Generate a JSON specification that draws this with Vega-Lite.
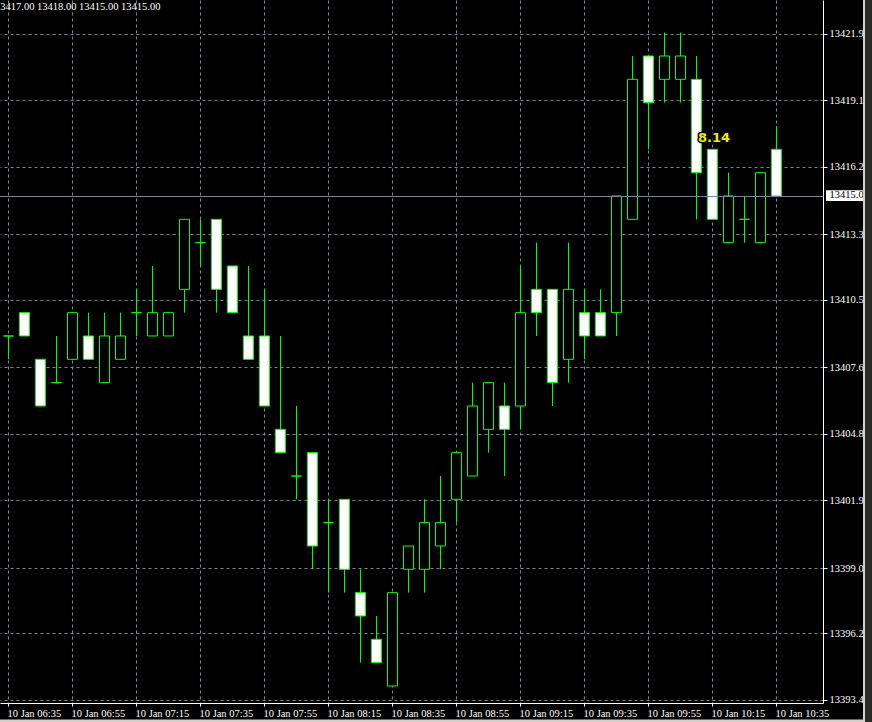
{
  "$schema": "https://vega.github.io/schema/vega-lite/v6.json",
  "width": 823,
  "height": 703,
  "autosize": {"type": "none"},
  "padding": {"left": 0, "top": 0, "right": 49, "bottom": 19},
  "background": "#000000",
  "config": {
    "view": {"stroke": null},
    "axis": {"labelFont": "Liberation Sans Narrow", "labelFontSize": 10.5, "labelColor": "#ffffff", "domainColor": "#ffffff", "tickColor": "#ffffff", "gridColor": "#778899", "gridDash": [3, 3], "gridWidth": 1, "domainWidth": 1, "tickWidth": 1, "zindex": 0, "labelOverlap": false, "labelFlush": false, "labelBound": false}
  },
  "data": {
    "values": [
      {"t": "2020-01-10T06:35:00Z", "open": 13409, "high": 13409, "low": 13408, "close": 13409},
      {"t": "2020-01-10T06:40:00Z", "open": 13410, "high": 13410, "low": 13409, "close": 13409},
      {"t": "2020-01-10T06:45:00Z", "open": 13408, "high": 13408, "low": 13406, "close": 13406},
      {"t": "2020-01-10T06:50:00Z", "open": 13407, "high": 13409, "low": 13407, "close": 13407},
      {"t": "2020-01-10T06:55:00Z", "open": 13408, "high": 13410, "low": 13408, "close": 13410},
      {"t": "2020-01-10T07:00:00Z", "open": 13409, "high": 13410, "low": 13408, "close": 13408},
      {"t": "2020-01-10T07:05:00Z", "open": 13407, "high": 13410, "low": 13407, "close": 13409},
      {"t": "2020-01-10T07:10:00Z", "open": 13408, "high": 13410, "low": 13408, "close": 13409},
      {"t": "2020-01-10T07:15:00Z", "open": 13410, "high": 13411, "low": 13409, "close": 13410},
      {"t": "2020-01-10T07:20:00Z", "open": 13409, "high": 13412, "low": 13409, "close": 13410},
      {"t": "2020-01-10T07:25:00Z", "open": 13409, "high": 13410, "low": 13409, "close": 13410},
      {"t": "2020-01-10T07:30:00Z", "open": 13411, "high": 13414, "low": 13410, "close": 13414},
      {"t": "2020-01-10T07:35:00Z", "open": 13413, "high": 13414, "low": 13412, "close": 13413},
      {"t": "2020-01-10T07:40:00Z", "open": 13414, "high": 13414, "low": 13410, "close": 13411},
      {"t": "2020-01-10T07:45:00Z", "open": 13412, "high": 13412, "low": 13410, "close": 13410},
      {"t": "2020-01-10T07:50:00Z", "open": 13409, "high": 13412, "low": 13408, "close": 13408},
      {"t": "2020-01-10T07:55:00Z", "open": 13409, "high": 13411, "low": 13406, "close": 13406},
      {"t": "2020-01-10T08:00:00Z", "open": 13405, "high": 13409, "low": 13404, "close": 13404},
      {"t": "2020-01-10T08:05:00Z", "open": 13403, "high": 13406, "low": 13402, "close": 13403},
      {"t": "2020-01-10T08:10:00Z", "open": 13404, "high": 13404, "low": 13399, "close": 13400},
      {"t": "2020-01-10T08:15:00Z", "open": 13401, "high": 13402, "low": 13398, "close": 13401},
      {"t": "2020-01-10T08:20:00Z", "open": 13402, "high": 13402, "low": 13398, "close": 13399},
      {"t": "2020-01-10T08:25:00Z", "open": 13398, "high": 13399, "low": 13395, "close": 13397},
      {"t": "2020-01-10T08:30:00Z", "open": 13396, "high": 13397, "low": 13395, "close": 13395},
      {"t": "2020-01-10T08:35:00Z", "open": 13394, "high": 13398, "low": 13394, "close": 13398},
      {"t": "2020-01-10T08:40:00Z", "open": 13399, "high": 13400, "low": 13398, "close": 13400},
      {"t": "2020-01-10T08:45:00Z", "open": 13399, "high": 13402, "low": 13398, "close": 13401},
      {"t": "2020-01-10T08:50:00Z", "open": 13400, "high": 13403, "low": 13399, "close": 13401},
      {"t": "2020-01-10T08:55:00Z", "open": 13402, "high": 13404, "low": 13401, "close": 13404},
      {"t": "2020-01-10T09:00:00Z", "open": 13403, "high": 13407, "low": 13403, "close": 13406},
      {"t": "2020-01-10T09:05:00Z", "open": 13405, "high": 13407, "low": 13404, "close": 13407},
      {"t": "2020-01-10T09:10:00Z", "open": 13406, "high": 13407, "low": 13403, "close": 13405},
      {"t": "2020-01-10T09:15:00Z", "open": 13406, "high": 13412, "low": 13405, "close": 13410},
      {"t": "2020-01-10T09:20:00Z", "open": 13411, "high": 13413, "low": 13409, "close": 13410},
      {"t": "2020-01-10T09:25:00Z", "open": 13411, "high": 13411, "low": 13406, "close": 13407},
      {"t": "2020-01-10T09:30:00Z", "open": 13408, "high": 13413, "low": 13407, "close": 13411},
      {"t": "2020-01-10T09:35:00Z", "open": 13410, "high": 13411, "low": 13408, "close": 13409},
      {"t": "2020-01-10T09:40:00Z", "open": 13410, "high": 13411, "low": 13409, "close": 13409},
      {"t": "2020-01-10T09:45:00Z", "open": 13410, "high": 13415, "low": 13409, "close": 13415},
      {"t": "2020-01-10T09:50:00Z", "open": 13414, "high": 13421, "low": 13414, "close": 13420},
      {"t": "2020-01-10T09:55:00Z", "open": 13421, "high": 13421, "low": 13417, "close": 13419},
      {"t": "2020-01-10T10:00:00Z", "open": 13420, "high": 13422, "low": 13419, "close": 13421},
      {"t": "2020-01-10T10:05:00Z", "open": 13420, "high": 13422, "low": 13419, "close": 13421},
      {"t": "2020-01-10T10:10:00Z", "open": 13420, "high": 13421, "low": 13414, "close": 13416},
      {"t": "2020-01-10T10:15:00Z", "open": 13417, "high": 13417, "low": 13414, "close": 13414},
      {"t": "2020-01-10T10:20:00Z", "open": 13413, "high": 13416, "low": 13413, "close": 13415},
      {"t": "2020-01-10T10:25:00Z", "open": 13414, "high": 13415, "low": 13413, "close": 13414},
      {"t": "2020-01-10T10:30:00Z", "open": 13413, "high": 13416, "low": 13413, "close": 13416},
      {"t": "2020-01-10T10:35:00Z", "open": 13417, "high": 13418, "low": 13415, "close": 13415}
    ]
  },
  "layer": [
    {
      "mark": {"type": "rule", "color": "#00ff00", "strokeWidth": 1, "xOffset": 0.5},
      "encoding": {
        "x": {
          "field": "t", "type": "temporal",
          "scale": {"type": "utc", "nice": false, "padding": 0, "domain": [
            {"year": 2020, "month": 1, "date": 10, "hours": 6, "minutes": 32, "seconds": 30, "utc": true},
            {"year": 2020, "month": 1, "date": 10, "hours": 10, "minutes": 49, "seconds": 41, "milliseconds": 250, "utc": true}
          ]},
          "axis": {
            "title": null, "orient": "bottom", "grid": true, "tickSize": 3, "labelPadding": 10.5, "labelAlign": "left", "labelBaseline": "alphabetic", "labelOffset": -1,
            "tickOpacity": {"condition": {"test": "indexof([15,35,55], utcminutes(datum.value)) < 0", "value": 0}, "value": 1},
            "labelExpr": "indexof([15,35,55], utcminutes(datum.value)) >= 0 ? utcFormat(datum.value, '%d %b %H:%M') : ''",
            "values": [
              {"year": 2020, "month": 1, "date": 10, "hours": 6, "minutes": 35, "utc": true},
              {"year": 2020, "month": 1, "date": 10, "hours": 6, "minutes": 45, "utc": true},
              {"year": 2020, "month": 1, "date": 10, "hours": 6, "minutes": 55, "utc": true},
              {"year": 2020, "month": 1, "date": 10, "hours": 7, "minutes": 5, "utc": true},
              {"year": 2020, "month": 1, "date": 10, "hours": 7, "minutes": 15, "utc": true},
              {"year": 2020, "month": 1, "date": 10, "hours": 7, "minutes": 25, "utc": true},
              {"year": 2020, "month": 1, "date": 10, "hours": 7, "minutes": 35, "utc": true},
              {"year": 2020, "month": 1, "date": 10, "hours": 7, "minutes": 45, "utc": true},
              {"year": 2020, "month": 1, "date": 10, "hours": 7, "minutes": 55, "utc": true},
              {"year": 2020, "month": 1, "date": 10, "hours": 8, "minutes": 5, "utc": true},
              {"year": 2020, "month": 1, "date": 10, "hours": 8, "minutes": 15, "utc": true},
              {"year": 2020, "month": 1, "date": 10, "hours": 8, "minutes": 25, "utc": true},
              {"year": 2020, "month": 1, "date": 10, "hours": 8, "minutes": 35, "utc": true},
              {"year": 2020, "month": 1, "date": 10, "hours": 8, "minutes": 45, "utc": true},
              {"year": 2020, "month": 1, "date": 10, "hours": 8, "minutes": 55, "utc": true},
              {"year": 2020, "month": 1, "date": 10, "hours": 9, "minutes": 5, "utc": true},
              {"year": 2020, "month": 1, "date": 10, "hours": 9, "minutes": 15, "utc": true},
              {"year": 2020, "month": 1, "date": 10, "hours": 9, "minutes": 25, "utc": true},
              {"year": 2020, "month": 1, "date": 10, "hours": 9, "minutes": 35, "utc": true},
              {"year": 2020, "month": 1, "date": 10, "hours": 9, "minutes": 45, "utc": true},
              {"year": 2020, "month": 1, "date": 10, "hours": 9, "minutes": 55, "utc": true},
              {"year": 2020, "month": 1, "date": 10, "hours": 10, "minutes": 5, "utc": true},
              {"year": 2020, "month": 1, "date": 10, "hours": 10, "minutes": 15, "utc": true},
              {"year": 2020, "month": 1, "date": 10, "hours": 10, "minutes": 25, "utc": true},
              {"year": 2020, "month": 1, "date": 10, "hours": 10, "minutes": 35, "utc": true},
              {"year": 2020, "month": 1, "date": 10, "hours": 10, "minutes": 45, "utc": true}
            ]
          }
        },
        "y": {
          "field": "low", "type": "quantitative",
          "scale": {"domain": [13393.27, 13423.4], "nice": false, "zero": false, "padding": 0},
          "axis": {
            "title": null, "orient": "right", "grid": true, "tickSize": 4, "labelPadding": 2, "labelAlign": "left", "labelBaseline": "middle", "format": ".2f",
            "values": [13423.40, 13421.95, 13420.50, 13419.10, 13417.70, 13416.25, 13414.80, 13413.35, 13411.95, 13410.55, 13409.10, 13407.65, 13406.20, 13404.80, 13403.40, 13401.95, 13400.50, 13399.05, 13397.65, 13396.25, 13394.80, 13393.40]
          }
        },
        "y2": {"field": "high"}
      }
    },
    {
      "mark": {"type": "bar", "width": 10, "stroke": "#00ff00", "strokeWidth": 1, "xOffset": 0.5},
      "encoding": {
        "x": {"field": "t", "type": "temporal"},
        "y": {"field": "open", "type": "quantitative"},
        "y2": {"field": "close"},
        "fill": {"condition": {"test": "datum.close < datum.open", "value": "#ffffff"}, "value": "#000000"}
      }
    },
    {
      "data": {"values": [{}]},
      "mark": {"type": "rule", "color": "#778899", "strokeWidth": 1, "yOffset": 0.5},
      "encoding": {"y": {"datum": 13415, "type": "quantitative"}}
    },
    {
      "data": {"values": [{}]},
      "mark": {"type": "text", "text": "8.14", "font": "DejaVu Sans", "fontWeight": "bold", "fontSize": 13, "align": "center", "baseline": "middle", "dx": 2, "fill": "#000000", "stroke": "#000000", "strokeWidth": 3, "strokeJoin": "round"},
      "encoding": {
        "x": {"datum": {"year": 2020, "month": 1, "date": 10, "hours": 10, "minutes": 15, "utc": true}, "type": "temporal"},
        "y": {"datum": 13417.5, "type": "quantitative"}
      }
    },
    {
      "data": {"values": [{}]},
      "mark": {"type": "text", "text": "8.14", "font": "DejaVu Sans", "fontWeight": "bold", "fontSize": 13, "align": "center", "baseline": "middle", "dx": 2, "fill": "#eeee00"},
      "encoding": {
        "x": {"datum": {"year": 2020, "month": 1, "date": 10, "hours": 10, "minutes": 15, "utc": true}, "type": "temporal"},
        "y": {"datum": 13417.5, "type": "quantitative"}
      }
    },
    {
      "data": {"values": [{}]},
      "mark": {"type": "text", "text": "13417.00 13418.00 13415.00 13415.00", "font": "Liberation Sans Narrow", "fontSize": 10.5, "align": "left", "baseline": "alphabetic", "dx": -5, "dy": 10, "fill": "#ffffff", "clip": true},
      "encoding": {
        "x": {"datum": {"year": 2020, "month": 1, "date": 10, "hours": 6, "minutes": 32, "seconds": 30, "utc": true}, "type": "temporal"},
        "y": {"datum": 13423.4, "type": "quantitative"}
      }
    },
    {
      "data": {"values": [{}]},
      "mark": {"type": "rect", "fill": "#ffffff"},
      "encoding": {
        "x": {"datum": {"year": 2020, "month": 1, "date": 10, "hours": 10, "minutes": 50, "seconds": 37, "milliseconds": 500, "utc": true}, "type": "temporal"},
        "x2": {"datum": {"year": 2020, "month": 1, "date": 10, "hours": 11, "minutes": 4, "seconds": 22, "milliseconds": 500, "utc": true}},
        "y": {"datum": 13415.25, "type": "quantitative"},
        "y2": {"datum": 13414.78}
      }
    },
    {
      "data": {"values": [{}]},
      "mark": {"type": "text", "text": "13415.00", "font": "Liberation Sans Narrow", "fontSize": 10.5, "align": "left", "baseline": "middle", "dx": 3.5, "dy": -0.5, "fill": "#000000"},
      "encoding": {
        "x": {"datum": {"year": 2020, "month": 1, "date": 10, "hours": 10, "minutes": 50, "seconds": 37, "milliseconds": 500, "utc": true}, "type": "temporal"},
        "y": {"datum": 13415, "type": "quantitative"}
      }
    },
    {
      "data": {"values": [{}]},
      "mark": {"type": "rect", "fill": "#d4d0c8"},
      "encoding": {
        "x": {"datum": {"year": 2020, "month": 1, "date": 10, "hours": 6, "minutes": 30, "utc": true}, "type": "temporal"},
        "x2": {"datum": {"year": 2020, "month": 1, "date": 10, "hours": 11, "minutes": 2, "seconds": 11, "milliseconds": 250, "utc": true}},
        "y": {"datum": 13392.56, "type": "quantitative"},
        "y2": {"datum": 13391.5}
      }
    },
    {
      "data": {"values": [{}]},
      "mark": {"type": "rect", "fill": "#d4d0c8"},
      "encoding": {
        "x": {"datum": {"year": 2020, "month": 1, "date": 10, "hours": 11, "minutes": 2, "seconds": 11, "milliseconds": 250, "utc": true}, "type": "temporal"},
        "x2": {"datum": {"year": 2020, "month": 1, "date": 10, "hours": 11, "minutes": 2, "seconds": 48, "milliseconds": 750, "utc": true}},
        "y": {"datum": 13424.5, "type": "quantitative"},
        "y2": {"datum": 13391.5}
      }
    },
    {
      "data": {"values": [{}]},
      "mark": {"type": "rect", "fill": "#2a2a2a"},
      "encoding": {
        "x": {"datum": {"year": 2020, "month": 1, "date": 10, "hours": 11, "minutes": 2, "seconds": 48, "milliseconds": 750, "utc": true}, "type": "temporal"},
        "x2": {"datum": {"year": 2020, "month": 1, "date": 10, "hours": 11, "minutes": 7, "seconds": 30, "utc": true}},
        "y": {"datum": 13424.5, "type": "quantitative"},
        "y2": {"datum": 13391.5}
      }
    }
  ]
}
